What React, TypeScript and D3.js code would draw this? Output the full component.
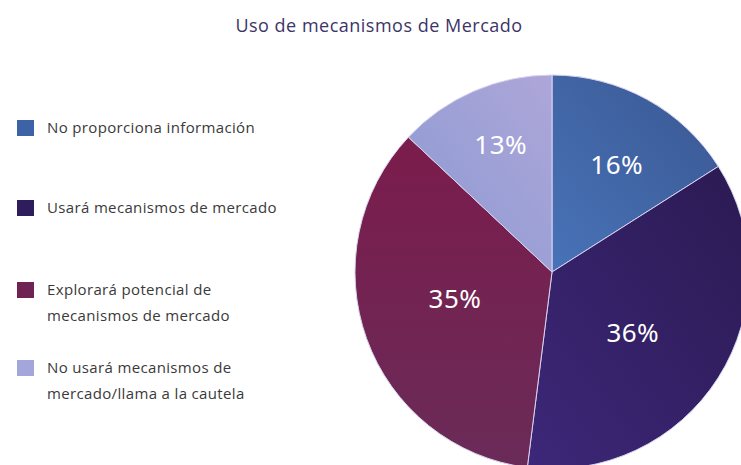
import React from "react";
import * as d3 from "d3";

const title = "Uso de mecanismos de Mercado";
const categories = [
  "No proporciona información",
  "Usará mecanismos de mercado",
  "Explorará potencial de mecanismos de mercado",
  "No usará mecanismos de mercado/llama a la cautela",
];
const legendLines = [
  ["No proporciona información"],
  ["Usará mecanismos de mercado"],
  ["Explorará potencial de", "mecanismos de mercado"],
  ["No usará mecanismos de", "mercado/llama a la cautela"],
];
const values = [16, 36, 35, 13];
const labels = ["16%", "36%", "35%", "13%"];
const colorsA = ["#3a5792", "#2b1a52", "#7b1c4c", "#aea6d9"];
const colorsB = ["#4873b8", "#3d2779", "#6a2b58", "#8a9ad2"];
const legendColors = ["#3d63a6", "#2e1c5c", "#6f2353", "#a3a6d8"];

const W = 741;
const H = 465;
const cx = 552;
const cy = 272;
const R = 197;
// small manual label nudges (layout only)
const labelNudge = [
  [4, 3],
  [-9, 4],
  [4, -10],
  [0, -9],
];

export default function App() {
  const pie = d3.pie<number>().sort(null).value((d) => d);
  const arcs = pie(values);
  const arc = d3.arc<d3.PieArcDatum<number>>().innerRadius(0).outerRadius(R);
  const total = d3.sum(values);
  const legendY = [133, 213, 295, 373];
  const gdir = [
    ["100%", "0%", "0%", "100%"],
    ["100%", "0%", "0%", "100%"],
    ["50%", "0%", "50%", "100%"],
    ["100%", "0%", "0%", "100%"],
  ];
  return (
    <svg
      width={W}
      height={H}
      style={{ position: "absolute", left: 0, top: 0, background: "#fff" }}
    >
      <defs>
        {values.map((_, i) => (
          <linearGradient
            key={i}
            id={`g${i}`}
            x1={gdir[i][0]}
            y1={gdir[i][1]}
            x2={gdir[i][2]}
            y2={gdir[i][3]}
          >
            <stop offset="0%" stopColor={colorsA[i]} />
            <stop offset="100%" stopColor={colorsB[i]} />
          </linearGradient>
        ))}
      </defs>
      <text
        x={379}
        y={32}
        textAnchor="middle"
        fontFamily="'Open Sans', 'Noto Sans', sans-serif"
        fontSize={18}
        letterSpacing={0.5}
        fill="#3d3468"
      >
        {title}
      </text>
      <g transform={`translate(${cx},${cy})`}>
        {arcs.map((a, i) => (
          <path
            key={i}
            d={arc(a) || ""}
            fill={`url(#g${i})`}
            stroke="#d9d2ef"
            strokeWidth={1}
          />
        ))}
        {arcs.map((a, i) => {
          const frac = values[i] / total;
          const lr = R * (0.72 - 0.5 * frac);
          const c = d3
            .arc<d3.PieArcDatum<number>>()
            .innerRadius(lr)
            .outerRadius(lr)
            .centroid(a);
          return (
            <text
              key={i}
              x={c[0] + labelNudge[i][0]}
              y={c[1] + labelNudge[i][1]}
              dy="0.36em"
              textAnchor="middle"
              fontFamily="'Noto Sans', sans-serif"
              fontSize={26}
              letterSpacing={0.5}
              fill="#ffffff"
            >
              {labels[i]}
            </text>
          );
        })}
      </g>
      <g>
        {categories.map((c, i) => (
          <g key={c}>
            <rect
              x={17}
              y={legendY[i] - 13}
              width={17}
              height={16}
              fill={legendColors[i]}
            />
            <text
              x={47}
              y={legendY[i]}
              fontFamily="'Open Sans', 'Noto Sans', sans-serif"
              fontSize={15}
              letterSpacing={0.35}
              fill="#3a3a3a"
            >
              {legendLines[i].map((ln, j) => (
                <tspan key={j} x={47} y={legendY[i] + j * 26}>
                  {ln}
                </tspan>
              ))}
            </text>
          </g>
        ))}
      </g>
    </svg>
  );
}
